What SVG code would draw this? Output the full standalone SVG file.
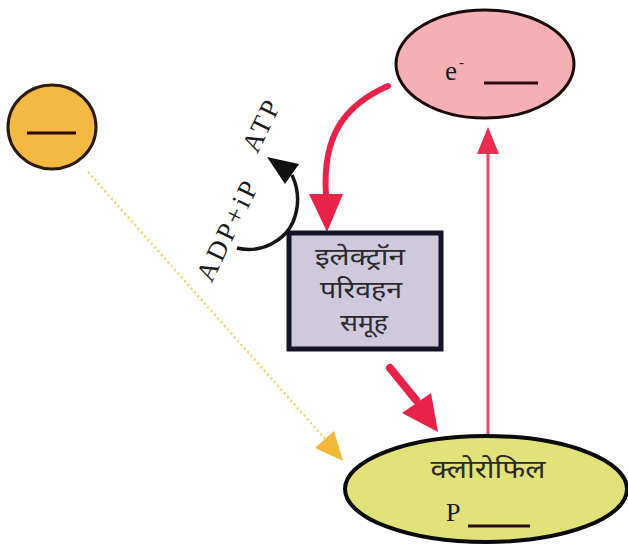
<svg xmlns="http://www.w3.org/2000/svg" width="628" height="545" viewBox="0 0 628 545">
<style>
.deva{font-family:"Noto Sans Devanagari","Noto Sans","Lohit Devanagari","FreeSans",sans-serif;fill:#2a2a2a;text-anchor:middle}
.ser{font-family:"Liberation Serif","DejaVu Serif",serif;fill:#1a1a1a}
.blank{stroke:#2a0a10;stroke-width:3}
.red{fill:none;stroke:#e8234a;stroke-linecap:round}
.redh{fill:#e8234a}
</style>
<rect width="628" height="545" fill="#ffffff"/>
<g id="connectors">
  <path d="M88 172 L326 440" fill="none" stroke="#f2d46a" stroke-width="2.5" stroke-dasharray="2 3"/>
  <polygon points="343,461 315,448 334,431" fill="#f2b838"/>
  <path class="red" d="M388 86 C345 105 322 135 326 195" stroke-width="6"/>
  <polygon class="redh" points="309,194 343,194 327,232"/>
  <path class="red" d="M390 368 L416 400" stroke-width="8"/>
  <polygon class="redh" points="402,413 431,393 438,432"/>
  <path d="M488 435 L488 150" fill="none" stroke="#e84a6a" stroke-width="3"/>
  <polygon points="488,127 477,154 499,154" fill="#ea2c52"/>
  <path d="M237 248 C262 254 285 240 293 222 C300 205 298 188 292 175" fill="none" stroke="#151515" stroke-width="3.5"/>
  <polygon points="267,157 299,164 285,184" fill="#111111"/>
  <text class="ser" transform="translate(227 231) rotate(-64)" font-size="27" text-anchor="middle" dominant-baseline="central" textLength="108" lengthAdjust="spacing">ADP+iP</text>
  <text class="ser" transform="translate(261 126) rotate(-64)" font-size="27" text-anchor="middle" dominant-baseline="central" textLength="54" lengthAdjust="spacing">ATP</text>
</g>
<g id="node-light">
  <ellipse cx="52" cy="127" rx="44" ry="42" fill="#f5b942" stroke="#2a1a0a" stroke-width="3"/>
  <line class="blank" x1="27" y1="133" x2="76" y2="133"/>
</g>
<g id="node-electron">
  <ellipse cx="485" cy="64" rx="89" ry="54" fill="#f4b0b4" stroke="#1a0a0a" stroke-width="3"/>
  <text class="ser" x="445" y="80" font-size="27">e</text>
  <text class="ser" x="459" y="67" font-size="15">-</text>
  <line class="blank" x1="484" y1="83" x2="538" y2="83"/>
</g>
<g id="node-etc">
  <rect x="289" y="233" width="152" height="116" fill="#d0c8dc" stroke="#141428" stroke-width="5"/>
  <text class="deva" x="360" y="265" font-size="24" textLength="90" lengthAdjust="spacingAndGlyphs">इलेक्ट्रॉन</text>
  <text class="deva" x="361" y="298" font-size="24" textLength="82" lengthAdjust="spacingAndGlyphs">परिवहन</text>
  <text class="deva" x="364" y="331" font-size="24" textLength="48" lengthAdjust="spacingAndGlyphs">समूह</text>
</g>
<g id="node-chlorophyll">
  <ellipse cx="486" cy="489" rx="141" ry="53" fill="#e2e27a" stroke="#0a0a0a" stroke-width="4"/>
  <text class="deva" x="488" y="478" font-size="25" textLength="115" lengthAdjust="spacingAndGlyphs">क्लोरोफिल</text>
  <text class="ser" x="446" y="521" font-size="26">P</text>
  <line class="blank" x1="468" y1="526" x2="530" y2="526"/>
</g>
</svg>
